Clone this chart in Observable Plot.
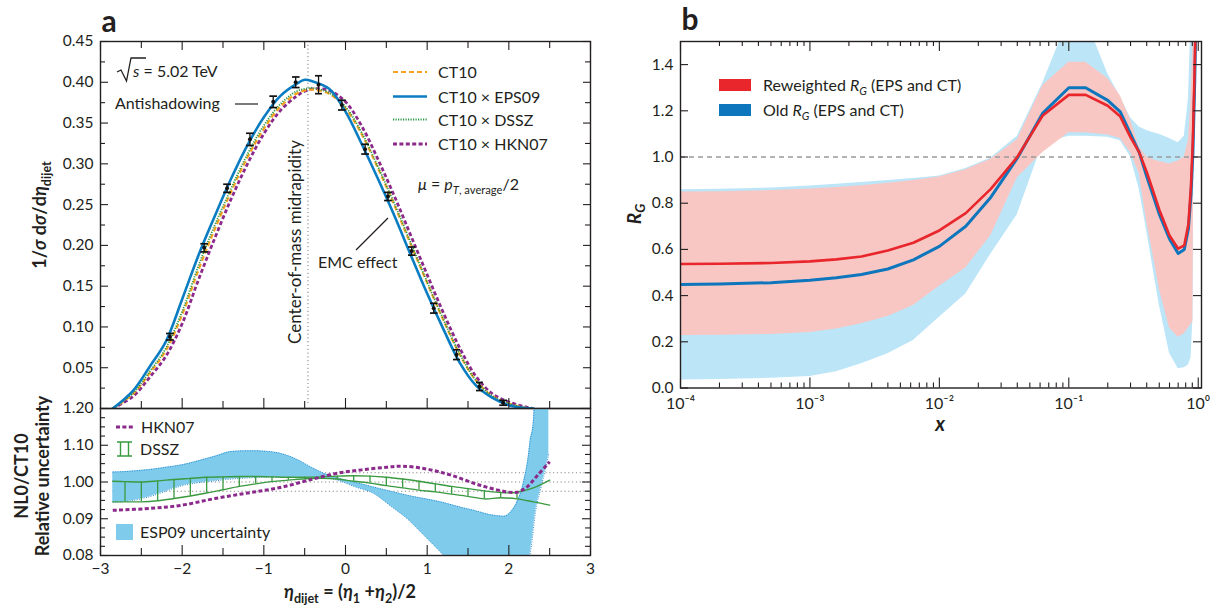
<!DOCTYPE html>
<html><head><meta charset="utf-8">
<script src="https://cdn.jsdelivr.net/npm/d3@7"></script>
<script src="https://cdn.jsdelivr.net/npm/@observablehq/plot@0.6"></script>
<style>
html,body{margin:0;padding:0;background:#fff;}
#root{position:relative;width:1215px;height:608px;overflow:hidden;font-family:Lato,"Noto Sans",sans-serif;color:#231f20;}
#root sub{font-size:70%;vertical-align:-0.35em;line-height:0;}
</style></head>
<body><div id="root"></div>
<script>
// ---------------- Panel a (top): normalized dijet distribution ----------------
const etaA  = [-2.85,-2.6,-2.4,-2.2,-2.0,-1.8,-1.6,-1.4,-1.2,-1.0,-0.8,-0.6,-0.5,-0.4,-0.2,0,0.2,0.4,0.6,0.8,1.0,1.2,1.4,1.6,1.8,2.0,2.2,2.3];
const ct10  = [0,0.018,0.043,0.071,0.115,0.170,0.220,0.266,0.308,0.343,0.370,0.386,0.390,0.391,0.386,0.368,0.336,0.294,0.249,0.201,0.154,0.108,0.066,0.034,0.015,0.006,0.001,0];
const eps09 = [0,0.022,0.051,0.082,0.134,0.188,0.236,0.282,0.323,0.357,0.383,0.398,0.403,0.401,0.392,0.364,0.324,0.281,0.236,0.188,0.141,0.097,0.056,0.028,0.013,0.004,0.0005,0];
const dssz  = [0,0.019,0.045,0.074,0.119,0.175,0.225,0.270,0.312,0.347,0.373,0.389,0.392,0.393,0.387,0.370,0.338,0.296,0.251,0.203,0.155,0.109,0.067,0.034,0.015,0.006,0.001,0];
const hkn07 = [0,0.015,0.038,0.064,0.104,0.158,0.209,0.257,0.300,0.337,0.365,0.383,0.389,0.392,0.390,0.376,0.346,0.305,0.260,0.212,0.164,0.117,0.074,0.039,0.018,0.008,0.002,0];
const ptEta = [-2.15,-1.73,-1.45,-1.17,-0.885,-0.61,-0.33,-0.045,0.24,0.52,0.81,1.08,1.36,1.64,1.93];
const ptVal = [0.088,0.197,0.270,0.330,0.376,0.400,0.397,0.372,0.318,0.260,0.193,0.123,0.066,0.027,0.007];
const ptErr = [0.004,0.005,0.005,0.0075,0.007,0.0065,0.011,0.006,0.006,0.005,0.005,0.006,0.006,0.005,0.003];
const midrapidity = [-0.46];
const yTicksA = [0.05,0.10,0.15,0.20,0.25,0.30,0.35,0.40,0.45];

// ---------------- Panel a (bottom): ratio to CT10 ----------------
const espEta = [-2.85,-2.6,-2.4,-2.2,-2.0,-1.8,-1.6,-1.4,-1.2,-1.0,-0.8,-0.6,-0.4,-0.2,-0.06,0.1,0.35,0.55,0.755,0.96,1.16,1.4,1.57,1.775,1.94,2.02,2.10,2.18,2.24,2.26,2.30,2.31,2.39,2.45,2.49];
const espLo  = [0.945,0.950,0.960,0.975,0.990,0.998,1.003,1.008,1.011,1.013,1.013,1.013,1.012,1.010,1.002,0.988,0.968,0.935,0.90,0.855,0.81,0.75,0.70,0.65,0.62,0.62,0.65,0.70,0.76,0.80,0.87,0.891,0.982,1.036,1.077];
const espHi  = [1.027,1.030,1.034,1.040,1.047,1.058,1.070,1.083,1.085,1.084,1.078,1.062,1.038,1.018,1.009,1.0,0.986,0.975,0.964,0.955,0.946,0.932,0.923,0.911,0.907,0.918,0.946,1.0,1.073,1.11,1.163,1.20,1.35,1.40,1.40];
const dsszEta = [-2.85,-2.7,-2.5,-2.3,-2.1,-1.9,-1.7,-1.5,-1.3,-1.1,-0.9,-0.7,-0.5,-0.3,-0.1,0.1,0.3,0.5,0.7,0.9,1.1,1.3,1.5,1.7,1.9,2.1,2.3,2.5];
const dsszHi  = [1.002,1.001,1.000,1.003,1.007,1.010,1.013,1.014,1.015,1.015,1.014,1.013,1.013,1.014,1.016,1.017,1.016,1.013,1.008,1.002,0.995,0.988,0.982,0.976,0.971,0.972,0.984,1.005];
const dsszLo  = [0.946,0.946,0.946,0.949,0.955,0.962,0.970,0.979,0.988,0.995,1.001,1.005,1.009,1.010,1.008,1.002,0.997,0.990,0.984,0.978,0.973,0.967,0.961,0.954,0.957,0.954,0.946,0.937];
const hknEta = [-2.85,-2.4,-2.0,-1.6,-1.2,-0.8,-0.4,-0.1,0.2,0.5,0.7,1.0,1.3,1.65,1.98,2.1,2.22,2.35,2.5];
const hknVal = [0.923,0.928,0.937,0.955,0.970,0.985,1.008,1.024,1.033,1.040,1.043,1.035,1.018,0.991,0.973,0.972,0.986,1.018,1.055];
const refLevels = [0.975,1.0,1.025];
const yTicksB = [1.2,1.1,1.0,0.9,0.8];
const yLabelsB = ["1.20","1.10","1.00","0.09","0.08"];
const xTicksA = [-3,-2,-1,0,1,2,3];
const xLabelsA = ["\u22123","\u22122","\u22121","0","1","2","3"];

// ---------------- Panel b: R_G ----------------
const xB    = [1e-4,2e-4,5e-4,1e-3,1.6e-3,2.5e-3,4e-3,6.3e-3,1e-2,1.6e-2,2.5e-2,4e-2,6.3e-2,0.1,0.135,0.2,0.25,0.3,0.35,0.4,0.45,0.5,0.6,0.7,0.78,0.84,0.88,0.91,0.94,0.96];
const rwMid = [0.537,0.538,0.541,0.548,0.557,0.569,0.595,0.629,0.682,0.757,0.862,1.0,1.18,1.269,1.269,1.222,1.175,1.085,1.02,0.935,0.85,0.772,0.66,0.603,0.617,0.71,0.88,1.08,1.40,1.65];
const rwLo  = [0.227,0.228,0.232,0.24,0.255,0.278,0.31,0.357,0.44,0.52,0.66,0.91,1.02,1.105,1.105,1.095,1.08,1.02,0.93,0.72,0.57,0.43,0.26,0.22,0.235,0.26,0.275,0.29,1.8,1.9];
const rwHi  = [0.848,0.850,0.855,0.862,0.868,0.876,0.886,0.898,0.913,0.945,0.99,1.075,1.31,1.41,1.41,1.34,1.265,1.16,1.045,1.0,0.988,0.98,0.97,0.983,1.0,1.07,1.25,1.5,1.8,1.9];
const oldMid= [0.448,0.450,0.456,0.466,0.477,0.491,0.515,0.555,0.613,0.70,0.826,0.995,1.19,1.30,1.30,1.245,1.195,1.10,1.02,0.915,0.83,0.753,0.645,0.582,0.60,0.69,0.84,1.02,1.33,1.60];
const oldLo = [0.035,0.037,0.042,0.05,0.07,0.105,0.148,0.206,0.306,0.407,0.58,0.75,1.06,1.09,1.09,1.085,1.07,1.0,0.86,0.68,0.51,0.36,0.15,0.083,0.088,0.10,0.13,0.30,1.8,1.9];
const oldHi = [0.858,0.860,0.866,0.875,0.882,0.89,0.898,0.907,0.918,0.95,0.996,1.09,1.32,1.6,1.6,1.36,1.26,1.17,1.13,1.115,1.105,1.098,1.08,1.062,1.09,1.25,1.6,1.8,1.9,1.9];
const unity = [1.0];
const xTicksB = [1e-4,1e-3,1e-2,1e-1,1];
const xLabelsB = ["10\u207B\u2074","10\u207B\u00B3","10\u207B\u00B2","10\u207B\u00B9","10\u2070"];
const yTicksBb = [0,0.2,0.4,0.6,0.8,1.0,1.2,1.4];

// ---------------- styling ----------------
const C = {ink:"#231f20", blue:"#0a7dc2", orange:"#f9a11b", green:"#2e9a48", purple:"#8b2a8b",
  esp:"#7fcbec", espEdge:"#2a8ad0", dsszBand:"#3a9a40", red:"#e8262b", oldBlue:"#0e76bc", pink:"#f8c7c4", lightBlue:"#bde5f8"};
const FONT = "Lato, 'Noto Sans', sans-serif";
const style = {fontFamily:FONT, fontSize:"15.5px", color:C.ink, background:"transparent", overflow:"visible"};
const root = document.getElementById("root");

function tickSet(side, values, len, fw, fh) {
  const o = {stroke:C.ink, strokeWidth:1.1};
  if (side === "left")   return Plot.tickY(values, {...o, y:d=>d, insetRight: fw - len});
  if (side === "right")  return Plot.tickY(values, {...o, y:d=>d, insetLeft: fw - len});
  if (side === "top")    return Plot.tickX(values, {...o, x:d=>d, insetBottom: fh - len});
  return Plot.tickX(values, {...o, x:d=>d, insetTop: fh - len});
}
function place(svg, left, top) {
  svg.style.position = "absolute"; svg.style.left = left + "px"; svg.style.top = top + "px";
  root.appendChild(svg);
}
const rng = (a, b, s) => d3.range(Math.round((b - a) / s) + 1).map(i => +(a + i * s).toFixed(4));
const dashed = {strokeLinecap: "butt", strokeLinejoin: "round"};

// ---------- Plot A1 ----------
{
  const W = 600, H = 420, mL = 100, mR = 10, mT = 41, mB = 12;
  const fw = W - mL - mR, fh = H - mT - mB;
  const rows = etaA.map((e, i) => ({eta:e, ct10:ct10[i], eps09:eps09[i], dssz:dssz[i], hkn07:hkn07[i]}));
  const pts = ptEta.map((e, i) => ({eta:e, v:ptVal[i], lo:ptVal[i]-ptErr[i], hi:ptVal[i]+ptErr[i]}));
  const yAll = rng(0.025, 0.45, 0.025);
  const yMaj = yAll.filter(v => Math.abs(v / 0.05 - Math.round(v / 0.05)) < 1e-6);
  const yMin = yAll.filter(v => !yMaj.includes(v));
  const xAll = rng(-3, 3, 0.5);
  const xMaj = xAll.filter(v => Number.isInteger(v)), xMin = xAll.filter(v => !Number.isInteger(v));
  const p = Plot.plot({
    width: W, height: H, marginLeft: mL, marginRight: mR, marginTop: mT, marginBottom: mB, style,
    x: {domain: [-3, 3], axis: null}, y: {domain: [0, 0.45]},
    marks: [
      Plot.ruleX(midrapidity, {x: d => d, y1: 0.006, y2: 0.45, stroke: "#8a8a8a", strokeWidth: 1.1, strokeDasharray: "1.2,2.6", ...dashed}),
      Plot.line(rows, {x: "eta", y: "hkn07", stroke: C.purple, strokeWidth: 2.8, strokeDasharray: "4,2.4", curve: "catmull-rom", clip: true, ...dashed}),
      Plot.line(rows, {x: "eta", y: "ct10", stroke: C.orange, strokeWidth: 2.2, strokeDasharray: "5,3", curve: "catmull-rom", clip: true, ...dashed}),
      Plot.line(rows, {x: "eta", y: "dssz", stroke: C.green, strokeWidth: 1.8, strokeDasharray: "1.2,1.3", curve: "catmull-rom", clip: true, ...dashed}),
      Plot.line(rows, {x: "eta", y: "eps09", stroke: C.blue, strokeWidth: 2.6, curve: "catmull-rom", clip: true}),
      Plot.link(pts, {x1: "eta", x2: "eta", y1: "lo", y2: "hi", stroke: "#111", strokeWidth: 1.3, markerStart: "tick", markerEnd: "tick"}),
      Plot.dot(pts, {x: "eta", y: "v", r: 2, fill: "#111"}),
      Plot.frame({stroke: C.ink, strokeWidth: 1.4}),
      tickSet("left", yMaj, 8, fw, fh), tickSet("left", yMin, 5, fw, fh),
      tickSet("right", yMaj, 7, fw, fh), tickSet("right", yMin, 5, fw, fh),
      tickSet("top", xMaj, 9, fw, fh), tickSet("top", xMin, 7, fw, fh),
      tickSet("bottom", xMaj, 10, fw, fh), tickSet("bottom", xMin, 7, fw, fh),
      Plot.axisY(yTicksA, {anchor: "left", tickSize: 0, tickPadding: 7, tickFormat: d3.format(".2f"), label: null})
    ]
  });
  place(p, 0, 0);
}

// ---------- Plot A2 ----------
{
  const W = 600, H = 208, mL = 100, mR = 10, mT = 8, mB = 53;
  const fw = W - mL - mR, fh = H - mT - mB;
  const esp = espEta.map((e, i) => ({eta:e, lo:espLo[i], hi:espHi[i]}));
  const ds = dsszEta.map((e, i) => ({eta:e, lo:dsszLo[i], hi:dsszHi[i]}));
  const bars = ds.filter(d => d.eta >= -2.71 && d.eta <= 2.11);
  const hk = hknEta.map((e, i) => ({eta:e, v:hknVal[i]}));
  const yAll = rng(0.8, 1.2, 0.025);
  const yMaj = yAll.filter(v => Math.abs(v * 10 - Math.round(v * 10)) < 1e-6);
  const yMin = yAll.filter(v => !yMaj.includes(v));
  const xAll = rng(-3, 3, 0.5);
  const xMaj = xAll.filter(v => Number.isInteger(v)), xMin = xAll.filter(v => !Number.isInteger(v));
  const p = Plot.plot({
    width: W, height: H, marginLeft: mL, marginRight: mR, marginTop: mT, marginBottom: mB, style,
    x: {domain: [-3, 3]}, y: {domain: [0.8, 1.2]},
    marks: [
      Plot.ruleY(refLevels, {y: d => d, x1: -2.85, x2: 3, stroke: "#8a8a8a", strokeWidth: 1.1, strokeDasharray: "1.2,2.6", ...dashed}),
      Plot.areaY(esp, {x: "eta", y1: "lo", y2: "hi", fill: C.esp, curve: "monotone-x", clip: true}),
      Plot.line(esp, {x: "eta", y: "lo", stroke: C.espEdge, strokeWidth: 1, strokeDasharray: "1,1.4", curve: "monotone-x", clip: true, ...dashed}),
      Plot.line(esp, {x: "eta", y: "hi", stroke: C.espEdge, strokeWidth: 1, strokeDasharray: "1,1.4", curve: "monotone-x", clip: true, ...dashed}),
      Plot.ruleX(bars, {x: "eta", y1: "lo", y2: "hi", stroke: C.dsszBand, strokeWidth: 1.3}),
      Plot.line(ds, {x: "eta", y: "hi", stroke: C.dsszBand, strokeWidth: 1.4, curve: "catmull-rom"}),
      Plot.line(ds, {x: "eta", y: "lo", stroke: C.dsszBand, strokeWidth: 1.4, curve: "catmull-rom"}),
      Plot.line(hk, {x: "eta", y: "v", stroke: C.purple, strokeWidth: 3, strokeDasharray: "4,2.4", curve: "catmull-rom", ...dashed}),
      Plot.frame({stroke: C.ink, strokeWidth: 1.4}),
      tickSet("left", yMaj, 8, fw, fh), tickSet("left", yMin, 5, fw, fh),
      tickSet("right", yMaj, 8, fw, fh), tickSet("right", yMin, 5, fw, fh),
      tickSet("bottom", xMaj, 10, fw, fh), tickSet("bottom", xMin, 7, fw, fh),
      Plot.axisY(yTicksB, {anchor: "left", tickSize: 0, tickPadding: 7, tickFormat: d => yLabelsB[yTicksB.indexOf(d)], label: null}),
      Plot.axisX(xTicksA, {anchor: "bottom", tickSize: 0, tickPadding: 7, tickFormat: d => xLabelsA[xTicksA.indexOf(d)], label: null})
    ]
  });
  place(p, 0, 400);
}

// ---------- Plot B ----------
{
  const W = 615, H = 420, mL = 80, mR = 14, mT = 41, mB = 32.5;
  const fw = W - mL - mR, fh = H - mT - mB;
  const rows = xB.map((x, i) => ({x, rm:rwMid[i], rl:rwLo[i], rh:rwHi[i], om:oldMid[i], ol:oldLo[i], oh:oldHi[i]}));
  const minors = [];
  for (let e = -4; e < 0; e++) for (let k = 2; k <= 9; k++) minors.push(k * Math.pow(10, e));
  const p = Plot.plot({
    width: W, height: H, marginLeft: mL, marginRight: mR, marginTop: mT, marginBottom: mB, style,
    x: {type: "log", domain: [1e-4, 1.06]}, y: {domain: [0, 1.5]},
    marks: [
      Plot.areaY(rows, {x: "x", y1: "ol", y2: "oh", fill: C.lightBlue, clip: true}),
      Plot.areaY(rows, {x: "x", y1: "rl", y2: "rh", fill: C.pink, clip: true}),
      Plot.ruleY(unity, {y: d => d, stroke: "#9a9a9a", strokeWidth: 1.4, strokeDasharray: "5,4"}),
      Plot.line(rows, {x: "x", y: "om", stroke: C.oldBlue, strokeWidth: 3, clip: true}),
      Plot.line(rows, {x: "x", y: "rm", stroke: C.red, strokeWidth: 2.6, clip: true}),
      Plot.frame({stroke: C.ink, strokeWidth: 1.4}),
      tickSet("left", yTicksBb, 8, fw, fh), tickSet("right", yTicksBb, 8, fw, fh),
      tickSet("top", xTicksB, 10, fw, fh), tickSet("top", minors, 5, fw, fh),
      tickSet("bottom", xTicksB, 10, fw, fh), tickSet("bottom", minors, 5, fw, fh),
      Plot.axisY(yTicksBb, {anchor: "left", tickSize: 0, tickPadding: 7, tickFormat: d3.format(".1f"), label: null}),
      Plot.axisX(xTicksB, {anchor: "bottom", tickSize: 0, tickPadding: 10, fontSize: 16, tickFormat: d => xLabelsB[xTicksB.indexOf(d)], label: null})
    ]
  });
  place(p, 600, 0);
}

// ---------- text overlays ----------
function label(html, x, y, o = {}) {
  const d = document.createElement("div");
  d.innerHTML = html;
  const tx = o.center ? "-50%" : "0";
  d.style.cssText = `position:absolute;left:${x}px;top:${y}px;white-space:nowrap;line-height:1.1;` +
    `font-size:${o.size || 15.5}px;font-weight:${o.weight || 400};font-style:${o.italic ? "italic" : "normal"};` +
    `transform:translate(${tx},-50%)${o.rot ? ` rotate(${o.rot}deg)` : ""};`;
  root.appendChild(d);
  return d;
}
label("a", 109, 20, {size: 30, weight: 700, center: true});
label("b", 690, 18, {size: 30, weight: 700, center: true});
label("1/<i>σ</i> d<i>σ</i>/d<i>η</i><sub>dijet</sub>", 40, 215, {size: 18, weight: 700, center: true, rot: -90});
label("NL0/CT10", 22, 476, {size: 18, weight: 700, center: true, rot: -90});
label("Relative uncertainty", 43, 476, {size: 18, weight: 700, center: true, rot: -90});
label("<i>η</i><sub>dijet</sub> = (<i>η</i><sub>1</sub> +<i>η</i><sub>2</sub>)/2", 350, 592, {size: 18, weight: 700, center: true});
label("<i>s</i> = 5.02 TeV", 133, 71, {size: 16});
label("Antishadowing", 115, 103, {size: 16});
label("EMC effect", 318, 262, {size: 16});
label("<i>μ</i> = <i>p</i><sub><i>T</i>, average</sub>/2", 418, 184, {size: 16});
label("Center-of-mass midrapidity", 295, 242, {size: 17, center: true, rot: -90});
const legA = [["CT10", 72], ["CT10 × EPS09", 96.5], ["CT10 × DSSZ", 119.5], ["CT10 × HKN07", 144]];
legA.forEach(([t, y]) => label(t, 438, y, {size: 16}));
label("HKN07", 141, 427, {size: 16});
label("DSSZ", 140, 449, {size: 16});
label("ESP09 uncertainty", 140, 532, {size: 16});
label("Reweighted <i>R<sub>G</sub></i> (EPS and CT)", 763, 85, {size: 16});
label("Old <i>R<sub>G</sub></i> (EPS and CT)", 763, 110, {size: 16});
label("<i>R<sub>G</sub></i>", 634, 214, {size: 19, weight: 700, center: true, rot: -90});
label("<i>x</i>", 940, 423, {size: 20, weight: 700, center: true});

// ---------- legend swatches & leader lines ----------
const ov = d3.select(root).append("svg").attr("width", 1215).attr("height", 608)
  .style("position", "absolute").style("left", 0).style("top", 0).style("pointer-events", "none");
const sw = [[C.orange, "5,3", 2.2], [C.blue, null, 2.6], [C.green, "1.2,1.3", 1.8], [C.purple, "4,2.4", 2.8]];
sw.forEach(([c, dash, w], i) => {
  ov.append("line").attr("x1", 393).attr("x2", 427).attr("y1", legA[i][1]).attr("y2", legA[i][1])
    .attr("stroke", c).attr("stroke-width", w).attr("stroke-dasharray", dash);
});
ov.append("line").attr("x1", 116).attr("x2", 133).attr("y1", 427).attr("y2", 427)
  .attr("stroke", C.purple).attr("stroke-width", 3).attr("stroke-dasharray", "4,2.4");
ov.append("path").attr("d", "M117,442H132M117,456H132M120.5,442V456M128.5,442V456")
  .attr("stroke", C.dsszBand).attr("stroke-width", 1.4).attr("fill", "none");
ov.append("rect").attr("x", 116).attr("y", 524).attr("width", 17).attr("height", 16).attr("fill", C.esp);
ov.append("rect").attr("x", 719).attr("y", 79).attr("width", 32).attr("height", 12).attr("fill", C.red);
ov.append("rect").attr("x", 719).attr("y", 104).attr("width", 32).attr("height", 12).attr("fill", C.oldBlue);
ov.append("path").attr("d", "M117,72L121,70L126.5,81L131,58H146").attr("stroke", C.ink).attr("stroke-width", 1.3).attr("fill", "none");
ov.append("line").attr("x1", 235).attr("x2", 258).attr("y1", 104).attr("y2", 104).attr("stroke", C.ink).attr("stroke-width", 1.2);
ov.append("line").attr("x1", 356).attr("x2", 388).attr("y1", 250).attr("y2", 218).attr("stroke", C.ink).attr("stroke-width", 1.2);
</script>
</body></html>
